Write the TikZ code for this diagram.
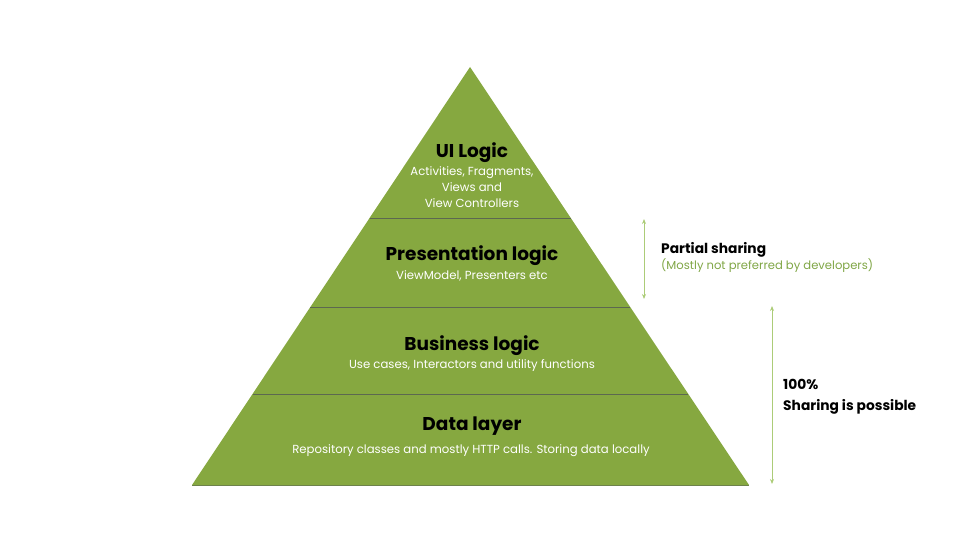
\documentclass[tikz,border=0pt]{standalone}
\usepackage{fontspec}
\setmainfont[Ligatures=NoCommon]{Poppins}
\usetikzlibrary{arrows.meta,calc,positioning}
\definecolor{layergreen}{RGB}{134,168,64}
\definecolor{dividergrey}{RGB}{92,104,80}
\definecolor{spangreen}{RGB}{172,204,120}
\definecolor{notegreen}{RGB}{128,166,70}
\tikzset{>={Stealth[length=5pt,width=4pt]},
	heading/.style={anchor=base,inner sep=0pt,font=\bfseries\fontsize{18.5}{20}\selectfont},
	detail/.style={anchor=base,inner sep=0pt,text=white,align=center,font=\fontsize{11.7}{16}\selectfont},
	divider/.style={draw=dividergrey,line width=0.7pt},
	span/.style={<->,draw=spangreen,line width=0.8pt},
	sidehead/.style={anchor=base west,inner sep=0pt,align=left,font=\bfseries\fontsize{13.8}{21}\selectfont},
	sidenote/.style={anchor=base west,inner sep=0pt,text=notegreen,font=\fontsize{11.6}{14}\selectfont}}

\begin{document}
\begin{tikzpicture}[x=1pt,y=-1pt]
	\useasboundingbox (0,0) rectangle (960,540);
	\coordinate (apex) at (470,67);
	\coordinate (bl) at (192,485);
	\coordinate (br) at (749,485);
	\fill[layergreen] (apex) -- (bl) -- (br) -- cycle;
	\draw[divider,draw=dividergrey!60!layergreen] (bl) -- (br);
	\foreach \t in {0.361,0.574,0.782}
		\draw[divider] ($(apex)!\t!(bl)$) -- ($(apex)!\t!(br)$);
	
	\node[heading] (ui) at (472,158) {UI Logic};
	\node[detail,anchor=north] (uidet) at (472,166) {Activities, Fragments,\\Views and\\View Controllers};
	\node[heading] (pres) at (472,260) {Presentation logic};
	\node[detail] (presdet) at (472,279) {ViewModel, Presenters etc};
	\node[heading] (biz) at (472,350) {Business logic};
	\node[detail] (bizdet) at (472,368) {Use cases, Interactors and utility functions};
	\node[heading] (data) at (472,430) {Data layer};
	\node[detail] (datadet) at (471,453) {Repository classes and mostly HTTP calls. Storing data locally};
	
	\coordinate (parttop) at (644,219);
	\coordinate (partbot) at (644,299);
	\draw[span] (parttop) -- (partbot);
	\node[sidehead] (partial) at (661,253) {Partial sharing};
	\node[sidenote] (partnote) at (661,269) {(Mostly not preferred by developers)};
	
	\coordinate (fulltop) at (772,306);
	\coordinate (fullbot) at (772,484);
	\draw[span] (fulltop) -- (fullbot);
	\node[sidehead,anchor=north west] (full) at (783,379.5) {100\%\\Sharing is possible};
\end{tikzpicture}
\end{document}
